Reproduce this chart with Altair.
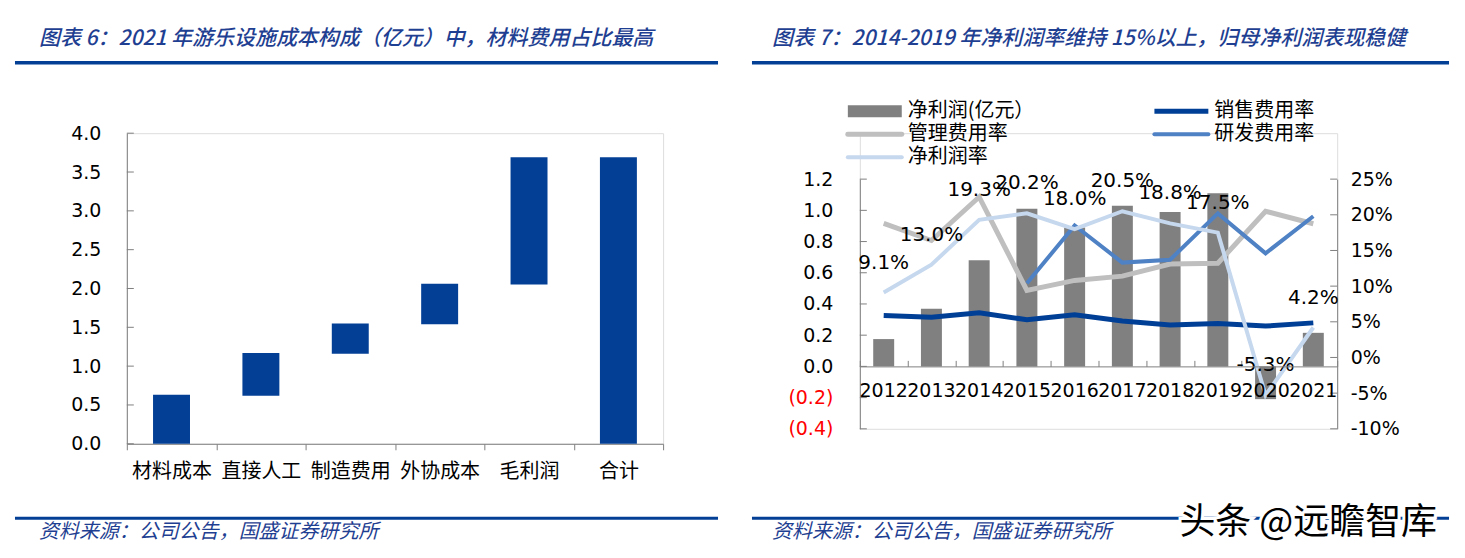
import altair as alt
import pandas as pd

# ---------------- data: left panel ----------------
categories = ["材料成本", "直接人工", "制造费用", "外协成本", "毛利润", "合计"]
bar_start = [0.0, 0.62, 1.16, 1.54, 2.05, 0.0]
bar_end = [0.63, 1.17, 1.55, 2.06, 3.69, 3.69]
left_tick_values = [0.0, 0.5, 1.0, 1.5, 2.0, 2.5, 3.0, 3.5, 4.0]

# ---------------- data: right panel ----------------
years = ["2012", "2013", "2014", "2015", "2016", "2017", "2018", "2019", "2020", "2021"]
net_profit = [0.175, 0.37, 0.68, 1.01, 0.89, 1.03, 0.99, 1.11, -0.21, 0.215]
sales_rate = [5.9, 5.65, 6.25, 5.3, 6.0, 5.1, 4.55, 4.75, 4.4, 4.85]
admin_rate = [18.8, 16.4, 22.5, 9.4, 10.8, 11.4, 13.1, 13.2, 20.5, 18.75]
rd_rate = [None, None, None, 10.4, 18.5, 13.3, 13.7, 20.2, 14.6, 19.8]
margin_rate = [9.1, 13.0, 19.3, 20.2, 18.0, 20.5, 18.8, 17.5, -5.3, 4.2]
right_left_ticks = [-0.4, -0.2, 0.0, 0.2, 0.4, 0.6, 0.8, 1.0, 1.2]
right_right_ticks = [-10, -5, 0, 5, 10, 15, 20, 25]

legend_labels = ["净利润(亿元）", "销售费用率", "管理费用率", "研发费用率", "净利润率"]
title_left = "图表 6：2021 年游乐设施成本构成（亿元）中，材料费用占比最高"
title_right = "图表 7：2014-2019 年净利润率维持 15%以上，归母净利润表现稳健"
source_text = "资料来源：公司公告，国盛证券研究所"
watermark = "头条 @远瞻智库"

# ---------------- styles / layout ----------------
BLUE = "#023F95"
TITLE_BLUE = "#1F3F92"
AX = "#808080"
GRAY_BAR = "#808080"
C_SALES = "#003F96"
C_ADMIN = "#BFBFBF"
C_RD = "#4F81C5"
C_MARGIN = "#C6D8EE"
NUM = "DejaVu Sans"
CJK = "Noto Sans CJK SC"

OX_L, OY = 126, 132          # left plot origin on page
OX_R = 860                   # right plot origin on page
LW, LH = 537, 311
RW, RH = 478, 296
R_TOP = 46
SPACING = OX_R - OX_L - LW

one = alt.Data(values=[{"a": 1}])


def txt(s, x, y, size, color="black", font=CJK, style="normal", align="left",
        stroke=None, sw=0, weight="normal"):
    kw = dict(fontSize=size, color=color, font=font, fontStyle=style,
              align=align, baseline="middle", fontWeight=weight)
    if stroke is not None:
        kw.update(stroke=stroke, strokeWidth=sw)
    return alt.Chart(one).mark_text(**kw).encode(
        x=alt.value(x), y=alt.value(y), text=alt.value(s))


def hrule(x1, x2, y, color, width, cap="butt"):
    return alt.Chart(one).mark_rule(color=color, strokeWidth=width, strokeCap=cap).encode(
        x=alt.value(x1), x2=alt.value(x2), y=alt.value(y))


# ================= LEFT PANEL =================
ldf = pd.DataFrame({"cat": categories, "start": bar_start, "end": bar_end})
yscale_l = alt.Scale(domain=[0, 4], range=[LH, 0], nice=False)
xscale_l = alt.Scale(paddingInner=0, paddingOuter=0)

bars_l = alt.Chart(ldf).mark_bar(size=37, color=BLUE).encode(
    x=alt.X("cat:N", sort=categories, scale=xscale_l,
            axis=alt.Axis(title=None, labelAngle=0, labelFont=CJK, labelFontSize=20,
                          labelColor="black", tickBand="extent", tickSize=6,
                          tickColor=AX, domainColor=AX, labelPadding=12, grid=False)),
    y=alt.Y("start:Q", scale=yscale_l,
            axis=alt.Axis(orient="left", title=None, values=left_tick_values,
                          labelExpr="format(datum.value, '.1f')", ticks=False,
                          labelPadding=26, labelFont=NUM, labelFontSize=19,
                          labelColor="#000000", domainColor=AX, grid=False)),
    y2="end:Q",
)
ticks_l = alt.Chart(pd.DataFrame({"t": left_tick_values})).mark_rule(color=AX).encode(
    y=alt.Y("t:Q", scale=yscale_l, axis=None), x=alt.value(0), x2=alt.value(7))

left = alt.layer(
    bars_l, ticks_l,
    hrule(-OX_L + 0.5, 1465 - OX_L - 0.5, -OY + 0.5, "white", 1),
    hrule(-OX_L + 0.5, 1465 - OX_L - 0.5, 558 - OY - 0.5, "white", 1),
    txt(title_left, 38 - OX_L, 38 - OY, 21, TITLE_BLUE, style="italic", weight=500),
    hrule(14 - OX_L, 718 - OX_L, 61.5 - OY, BLUE, 3.5),
    hrule(14 - OX_L, 718 - OX_L, 517.5 - OY, BLUE, 3),
    txt(source_text, 38 - OX_L, 531 - OY, 20, TITLE_BLUE, style="italic"),
).resolve_scale(y="independent").properties(width=LW, height=LH)

# ================= RIGHT PANEL =================
rdf = pd.DataFrame({"year": years, "profit": net_profit, "sales": sales_rate,
                    "admin": admin_rate, "rd": rd_rate, "margin": margin_rate})
xscale_r = alt.Scale(paddingInner=0, paddingOuter=0)
yl_scale = alt.Scale(domain=[-0.4, 1.2], range=[RH, R_TOP], nice=False)
yr_scale = alt.Scale(domain=[-10, 25], range=[RH, R_TOP], nice=False)
zero_px = RH - 0.4 / 1.6 * (RH - R_TOP)

bars_r = alt.Chart(rdf).mark_bar(size=21, color=GRAY_BAR).encode(
    x=alt.X("year:O", scale=xscale_r,
            axis=alt.Axis(orient="bottom", offset=-(RH - zero_px), ticks=False, title=None,
                          labelAngle=0, labelFont=NUM, labelFontSize=19, labelColor="black",
                          labelPadding=15, domainColor=AX, grid=False, zindex=1)),
    y=alt.Y("profit:Q", scale=yl_scale,
            axis=alt.Axis(orient="left", title=None, values=right_left_ticks, ticks=False,
                          labelExpr="datum.value < 0 ? '(' + format(-datum.value, '.1f') + ')' : format(datum.value, '.1f')",
                          labelColor={"condition": {"test": "datum.value < 0", "value": "#FF0000"},
                                      "value": "#000000"},
                          labelFont=NUM, labelFontSize=19, labelPadding=27,
                          domainColor=AX, grid=False)),
)
ticks_rl = alt.Chart(pd.DataFrame({"t": right_left_ticks})).mark_rule(color=AX).encode(
    y=alt.Y("t:Q", scale=yl_scale, axis=None), x=alt.value(0), x2=alt.value(7))
ticks_rr = alt.Chart(pd.DataFrame({"t": right_right_ticks})).mark_rule(color=AX).encode(
    y=alt.Y("t:Q", scale=yr_scale, axis=None), x=alt.value(RW - 7), x2=alt.value(RW))

line_sales = alt.Chart(rdf).mark_line(color=C_SALES, strokeWidth=5).encode(
    x=alt.X("year:O", scale=xscale_r,
            axis=alt.Axis(orient="top", offset=-zero_px, labels=False, domain=False,
                          tickSize=6, tickBand="extent", tickColor=AX, title=None, grid=False)),
    y=alt.Y("sales:Q", scale=yr_scale,
            axis=alt.Axis(orient="right", title=None, values=right_right_ticks, ticks=False,
                          labelExpr="datum.value + '%'", labelFont=NUM, labelFontSize=19,
                          labelColor="black", labelPadding=13, domainColor=AX, grid=False)),
)


def line(field, color, width):
    return alt.Chart(rdf).mark_line(color=color, strokeWidth=width).encode(
        x=alt.X("year:O", scale=xscale_r, axis=None),
        y=alt.Y(f"{field}:Q", scale=yr_scale, axis=None))


labels_r = alt.Chart(rdf).transform_calculate(
    lbl="(datum.margin < 0 ? '-' : '') + format(abs(datum.margin), '.1f') + '%'"
).mark_text(fontSize=20, font=NUM, dy=-30, color="black").encode(
    x=alt.X("year:O", scale=xscale_r, axis=None),
    y=alt.Y("margin:Q", scale=yr_scale, axis=None),
    text="lbl:N")

# legend (two columns, excel style)
lx1, lx2 = 848 - OX_R, 1155 - OX_R
ly = [110 - OY, 133 - OY, 156 - OY]
sym_w = 54
legend_layers = [
    hrule(lx1, lx1 + sym_w, ly[0], GRAY_BAR, 12), txt(legend_labels[0], lx1 + sym_w + 6, ly[0], 20),
    hrule(lx2, lx2 + sym_w, ly[0], C_SALES, 5), txt(legend_labels[1], lx2 + sym_w + 6, ly[0], 20),
    hrule(lx1, lx1 + sym_w, ly[1], C_ADMIN, 5, "round"), txt(legend_labels[2], lx1 + sym_w + 6, ly[1], 20),
    hrule(lx2, lx2 + sym_w, ly[1], C_RD, 4, "round"), txt(legend_labels[3], lx2 + sym_w + 6, ly[1], 20),
    hrule(lx1, lx1 + sym_w, ly[2], C_MARGIN, 4, "round"), txt(legend_labels[4], lx1 + sym_w + 6, ly[2], 20),
]

right = alt.layer(
    bars_r, ticks_rl,
    line_sales, line("admin", C_ADMIN, 5), line("rd", C_RD, 4), line("margin", C_MARGIN, 4),
    labels_r, ticks_rr,
    *legend_layers,
    txt(title_right, 772 - OX_R, 38 - OY, 21, TITLE_BLUE, style="italic", weight=500),
    hrule(752 - OX_R, 1450 - OX_R, 61.5 - OY, BLUE, 3.5),
    hrule(752 - OX_R, 1450 - OX_R, 517.5 - OY, BLUE, 3),
    txt(source_text, 772 - OX_R, 531 - OY, 20, TITLE_BLUE, style="italic"),
    txt(watermark, 1180 - OX_R, 522 - OY, 36, "white", stroke="white", sw=6),
    txt(watermark, 1180 - OX_R, 522 - OY, 36, "black"),
).resolve_scale(y="independent").properties(width=RW, height=RH)

chart = alt.hconcat(left, right, spacing=SPACING, bounds="flush").properties(
    padding=0, autosize=alt.AutoSizeParams(type="pad")
).configure_view(stroke="transparent").configure(background="white")

chart.save("out.html", embed_options={"renderer": "svg", "actions": False})
